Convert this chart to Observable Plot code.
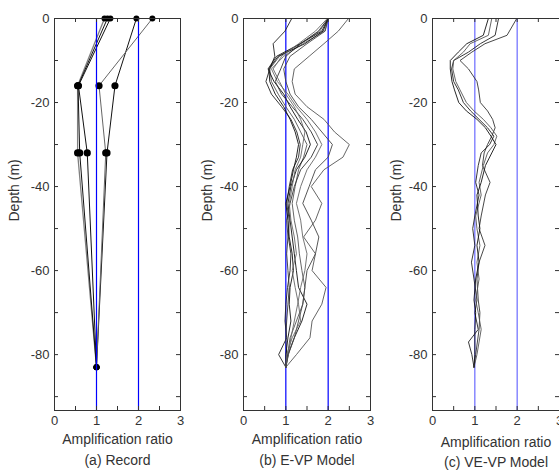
<!DOCTYPE html>
<html>
<head>
<meta charset="utf-8">
<script src="https://cdn.jsdelivr.net/npm/d3@7"></script>
<script src="https://cdn.jsdelivr.net/npm/@observablehq/plot@0.6"></script>
<style>
  html, body { margin: 0; padding: 0; background: #fff; }
  #wrap { position: relative; width: 559px; height: 470px; overflow: hidden; }
  #wrap svg { position: absolute; top: 0; }
</style>
</head>
<body>
<div id="wrap"></div>
<script>
// ---------- shared axis values ----------
const depthLabels = [0, -20, -40, -60, -80];
const depthMinor = [0, -10, -20, -30, -40, -50, -60, -70, -80, -90];
const ratioLabels = [0, 1, 2, 3];
const ratioMinor = [0, 0.5, 1, 1.5, 2, 2.5, 3];
const referenceRatios = [1, 2];

// ---------- (a) Record ----------
const recordDepths = [0, -16, -32, -83];
const record1 = [1.19, 0.55, 0.55, 1.0];
const record2 = [1.26, 0.56, 0.60, 1.0];
const record3 = [1.33, 0.57, 0.78, 1.0];
const record4 = [1.95, 1.44, 1.25, 1.0];
const record5 = [2.33, 1.06, 1.22, 1.0];

// ---------- (b) E-VP Model ----------
const evpDepths = [0, -3, -6, -9, -12, -15, -18, -21, -24, -27, -30, -33, -36, -40, -44, -48, -52, -56, -60, -64, -68, -72, -76, -80, -83];
const evp1 = [1.14,0.98,0.70,0.74,0.62, 0.53,0.66,0.90,1.12,1.26, 1.34,1.30,1.16,1.08,1.02, 1.08,1.06,1.12,1.10,1.04, 1.00,0.98,1.02,0.83,1.00];
const evp2 = [2.00,1.80,1.34,0.85,0.62, 0.66,0.82,1.00,1.20,1.35, 1.50,1.42,1.30,1.22,1.15, 1.20,1.28,1.32,1.38,1.45, 1.40,1.25,1.10,1.04,1.00];
const evp3 = [2.00,1.85,1.34,0.78,0.58, 0.72,0.95,1.10,1.28,1.48, 1.58,1.45,1.25,1.12,1.05, 1.10,1.15,1.20,1.25,1.30, 1.50,1.38,1.20,1.05,1.00];
const evp4 = [2.00,1.92,1.40,0.95,0.66, 0.80,1.05,1.25,1.50,1.70, 1.85,1.70,1.50,1.35,1.25, 1.35,1.40,1.50,1.45,1.35, 1.28,1.20,1.12,1.06,1.00];
const evp5 = [2.00,1.77,1.35,1.00,0.88, 0.75,0.90,1.15,1.40,1.60, 1.75,1.60,1.35,1.20,1.10, 1.02,1.05,1.02,1.05,1.08, 1.05,1.02,1.00,1.02,1.00];
const evp6 = [2.48,2.24,1.90,1.55,1.20, 1.15,1.22,1.50,1.90,2.15, 2.50,2.35,1.90,1.60,1.85, 1.70,1.42,1.70,1.62,1.95, 1.85,1.62,1.57,1.25,1.00];
const evp7 = [2.00,1.93,1.50,1.10,0.95, 1.00,1.10,1.30,1.60,1.85, 2.10,2.00,1.70,1.55,1.40, 1.60,1.78,1.70,1.50,1.45, 1.40,1.30,1.20,1.06,1.00];
const evp8 = [2.00,1.88,1.45,0.82,0.60, 0.62,0.75,0.95,1.10,1.22, 1.30,1.25,1.18,1.10,1.00, 1.05,1.08,1.15,1.18,1.10, 1.08,1.12,1.05,1.00,1.00];
const evp9 = [1.98,1.70,1.30,0.90,0.70, 0.85,1.00,1.20,1.35,1.45, 1.40,1.35,1.22,1.15,1.08, 1.12,1.20,1.25,1.15,1.22, 1.30,1.35,1.15,1.02,1.00];

// ---------- (c) VE-VP Model ----------
const vevpDepths = [0, -4, -6, -8, -10, -12, -15, -17, -20, -22, -24, -26, -28, -30, -32, -35, -39, -42, -47, -50, -54, -58, -62, -67, -70, -74, -77, -80, -83];
const vevp1 = [1.99,1.76,1.24,0.93,0.65, 0.85,1.05,1.09,1.13,1.30, 1.42,1.48,1.40,1.30,1.22, 1.18,1.36,1.25,1.15,1.10, 1.24,1.10,1.05,1.08,1.12, 1.10,1.06,1.02,0.98];
const vevp2 = [1.56,1.48,1.13,0.85,0.50, 0.45,0.50,0.61,0.73,0.90, 1.10,1.30,1.45,1.35,1.15, 1.08,1.02,1.10,1.00,0.95, 1.00,0.92,0.98,1.05,1.00, 1.08,0.85,0.93,0.98];
const vevp3 = [1.40,1.32,0.89,0.73,0.50, 0.48,0.55,0.65,0.80,0.98, 1.20,1.38,1.52,1.45,1.30, 1.20,1.10,1.15,1.02,1.05, 1.12,1.05,1.10,1.02,1.08, 1.15,1.10,1.05,0.98];
const vevp4 = [1.32,1.20,0.81,0.61,0.42, 0.42,0.46,0.52,0.62,0.80, 1.05,1.25,1.38,1.50,1.40, 1.25,1.15,1.05,1.08,1.12, 1.05,1.10,1.02,0.98,1.02, 1.00,1.00,1.00,0.98];

// ---------- helpers ----------
const toRows = (depths, values) => depths.map((d, i) => ({depth: d, value: values[i]}));
const FONT = "'Liberation Sans', Arial, Helvetica, sans-serif";
const DEPTH_DOMAIN = [-93.3, 0];

function panel({left, width, marginLeft, marginRight, series, blue, blueOnTop, caption, labelDy, captionDy, ylabelDx, dots}) {
  const H = 470, MT = 18, MB = 60;
  const plotW = width - marginLeft - marginRight;
  const plotH = H - MT - MB;
  const lines = series.map(s => Plot.line(s.rows, {x: "value", y: "depth", stroke: s.color, strokeWidth: s.width || 0.9}));
  const blueMarks = [Plot.ruleX(referenceRatios, {stroke: blue, strokeWidth: 1.2})];
  const marks = [
    ...(blueOnTop ? [] : blueMarks),
    ...lines,
    ...(dots || []),
    ...(blueOnTop ? blueMarks : []),
    // inward ticks on all four sides
    Plot.tickY(depthMinor, {y: d => d, insetRight: plotW - 4, stroke: "#333"}),
    Plot.tickY(depthMinor, {y: d => d, insetLeft: plotW - 4, stroke: "#333"}),
    Plot.tickX(ratioMinor, {x: d => d, insetTop: plotH - 4, stroke: "#333"}),
    Plot.tickX(ratioMinor, {x: d => d, insetBottom: plotH - 4, stroke: "#333"}),
    Plot.frame({stroke: "#333"}),
    Plot.axisY(depthLabels, {anchor: "left", tickSize: 0, tickPadding: 5, tickFormat: d => String(d), fontSize: 13, fill: "#333", label: null}),
    Plot.axisX(ratioLabels, {anchor: "bottom", tickSize: 0, tickPadding: 5, tickFormat: d => String(d), fontSize: 13, fill: "#333", label: null}),
    Plot.text(["Amplification ratio"], {frameAnchor: "bottom", dy: labelDy, text: d => d, fontSize: 14, fill: "#333", lineAnchor: "middle"}),
    Plot.text([caption], {frameAnchor: "bottom", dy: captionDy, text: d => d, fontSize: 14, fill: "#333", lineAnchor: "middle"}),
    Plot.text(["Depth (m)"], {frameAnchor: "left", dx: ylabelDx, dy: 7, rotate: -90, text: d => d, fontSize: 14, fill: "#333"})
  ];
  const svg = Plot.plot({
    width, height: H,
    marginLeft, marginRight, marginTop: MT, marginBottom: MB,
    x: {domain: [0, 3], axis: null},
    y: {domain: DEPTH_DOMAIN, axis: null},
    style: {fontFamily: FONT, background: "transparent", overflow: "visible"},
    marks
  });
  svg.style.left = left + "px";
  document.getElementById("wrap").appendChild(svg);
}

// (a)
const recordSeries = [
  {rows: toRows(recordDepths, record1), color: "#808080", width: 1.3},
  {rows: toRows(recordDepths, record2), color: "#111", width: 1},
  {rows: toRows(recordDepths, record3), color: "#111", width: 1},
  {rows: toRows(recordDepths, record4), color: "#111", width: 1},
  {rows: toRows(recordDepths, record5), color: "#666", width: 1}
];
const recordPoints = recordSeries.flatMap(s => s.rows);
panel({
  left: 0, width: 186, marginLeft: 54, marginRight: 6,
  series: recordSeries, blue: "#0000ff", blueOnTop: true,
  caption: "(a) Record", labelDy: 29, captionDy: 50, ylabelDx: -40,
  dots: [Plot.dot(recordPoints, {x: "value", y: "depth", fill: "#000", r: d => (d.depth === -16 || d.depth === -32) ? 4 : 2.8})]
});

// (b)
const evpColors = ["#222", "#555", "#111", "#666", "#333", "#555", "#444", "#111", "#666"];
const evpSeries = [evp1, evp2, evp3, evp4, evp5, evp6, evp7, evp8, evp9].map((v, i) => ({rows: toRows(evpDepths, v), color: evpColors[i], width: 0.9}));
panel({
  left: 186, width: 186, marginLeft: 57, marginRight: 2,
  series: evpSeries, blue: "#0000ff", blueOnTop: false,
  caption: "(b) E-VP Model", labelDy: 29, captionDy: 50, ylabelDx: -36
});

// (c)
const vevpColors = ["#333", "#222", "#555", "#111"];
const vevpSeries = [vevp1, vevp2, vevp3, vevp4].map((v, i) => ({rows: toRows(vevpDepths, v), color: vevpColors[i], width: 0.9}));
panel({
  left: 372, width: 188, marginLeft: 60, marginRight: 1,
  series: vevpSeries, blue: "#6a6aff", blueOnTop: false,
  caption: "(c) VE-VP Model", labelDy: 32, captionDy: 52, ylabelDx: -36
});
</script>
</body>
</html>
